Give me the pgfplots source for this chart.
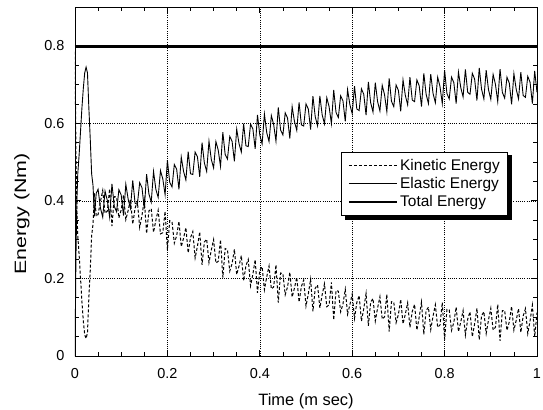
\documentclass[border=0pt]{standalone}
\usepackage{fontspec}
\setmainfont{Liberation Sans}
\newfontfamily\stretchfont[FakeStretch=1.3]{Liberation Sans}
\usepackage{pgfplots}
\usepackage{pgfplotstable}
\pgfplotsset{compat=1.18}
\pgfplotstableread{
t e k
0.000 0.000 0.785
0.002 0.250 0.530
0.004 0.400 0.380
0.006 0.470 0.310
0.009 0.520 0.260
0.012 0.580 0.200
0.015 0.640 0.140
0.018 0.690 0.090
0.021 0.730 0.055
0.024 0.745 0.045
0.027 0.730 0.060
0.030 0.640 0.150
0.033 0.560 0.220
0.036 0.470 0.310
0.039 0.440 0.340
0.042 0.360 0.420
0.046 0.420 0.360
0.050 0.430 0.365
0.055 0.382 0.398
0.060 0.358 0.427
0.065 0.425 0.368
0.070 0.401 0.374
0.075 0.358 0.431
0.080 0.444 0.335
0.085 0.386 0.411
0.090 0.372 0.410
0.095 0.429 0.356
0.100 0.415 0.377
0.105 0.362 0.415
0.110 0.443 0.352
0.115 0.405 0.375
0.120 0.381 0.404
0.125 0.453 0.340
0.130 0.394 0.381
0.135 0.391 0.398
0.140 0.447 0.332
0.145 0.434 0.363
0.150 0.380 0.402
0.155 0.469 0.316
0.160 0.418 0.374
0.165 0.397 0.380
0.170 0.476 0.319
0.175 0.430 0.350
0.180 0.409 0.376
0.185 0.478 0.315
0.190 0.457 0.318
0.195 0.416 0.373
0.200 0.505 0.274
0.205 0.448 0.349
0.210 0.436 0.346
0.215 0.494 0.291
0.220 0.482 0.310
0.225 0.430 0.347
0.230 0.513 0.282
0.235 0.476 0.304
0.240 0.454 0.331
0.245 0.527 0.266
0.250 0.470 0.305
0.255 0.468 0.321
0.260 0.526 0.253
0.265 0.514 0.283
0.270 0.462 0.320
0.275 0.550 0.235
0.280 0.498 0.294
0.285 0.476 0.301
0.290 0.554 0.241
0.295 0.507 0.273
0.300 0.485 0.300
0.305 0.553 0.240
0.310 0.531 0.244
0.315 0.489 0.300
0.320 0.577 0.202
0.325 0.520 0.277
0.330 0.508 0.274
0.335 0.566 0.219
0.340 0.554 0.238
0.345 0.502 0.275
0.350 0.585 0.210
0.355 0.548 0.232
0.360 0.526 0.259
0.365 0.599 0.194
0.370 0.542 0.233
0.375 0.540 0.249
0.380 0.598 0.181
0.385 0.586 0.211
0.390 0.534 0.248
0.395 0.622 0.163
0.400 0.570 0.222
0.405 0.547 0.230
0.410 0.624 0.171
0.415 0.576 0.204
0.420 0.553 0.232
0.425 0.620 0.173
0.430 0.597 0.178
0.435 0.554 0.235
0.440 0.641 0.138
0.445 0.583 0.214
0.450 0.570 0.212
0.455 0.627 0.158
0.460 0.614 0.178
0.465 0.561 0.216
0.470 0.643 0.152
0.475 0.605 0.175
0.480 0.582 0.203
0.485 0.654 0.139
0.490 0.596 0.179
0.495 0.593 0.196
0.500 0.650 0.129
0.505 0.637 0.160
0.510 0.584 0.198
0.515 0.670 0.115
0.520 0.617 0.175
0.525 0.594 0.183
0.530 0.671 0.124
0.535 0.622 0.158
0.540 0.599 0.186
0.545 0.666 0.127
0.550 0.643 0.132
0.555 0.599 0.190
0.560 0.686 0.093
0.565 0.628 0.169
0.570 0.615 0.167
0.575 0.671 0.114
0.580 0.658 0.134
0.585 0.605 0.172
0.590 0.687 0.108
0.595 0.648 0.132
0.600 0.625 0.160
0.605 0.696 0.097
0.610 0.637 0.138
0.615 0.633 0.156
0.620 0.689 0.090
0.625 0.675 0.122
0.630 0.621 0.161
0.635 0.707 0.078
0.640 0.653 0.139
0.645 0.629 0.148
0.650 0.705 0.090
0.655 0.656 0.124
0.660 0.632 0.153
0.665 0.698 0.095
0.670 0.674 0.101
0.675 0.630 0.159
0.680 0.716 0.063
0.685 0.657 0.140
0.690 0.643 0.139
0.695 0.699 0.086
0.700 0.685 0.107
0.705 0.631 0.146
0.710 0.712 0.083
0.715 0.672 0.108
0.720 0.648 0.137
0.725 0.719 0.074
0.730 0.660 0.115
0.735 0.656 0.133
0.740 0.712 0.067
0.745 0.697 0.100
0.750 0.643 0.139
0.755 0.729 0.056
0.760 0.675 0.117
0.765 0.651 0.126
0.770 0.727 0.068
0.775 0.677 0.103
0.780 0.653 0.132
0.785 0.719 0.074
0.790 0.695 0.080
0.795 0.651 0.138
0.800 0.737 0.042
0.805 0.677 0.120
0.810 0.663 0.119
0.815 0.719 0.066
0.820 0.705 0.087
0.825 0.651 0.126
0.830 0.732 0.063
0.835 0.692 0.088
0.840 0.668 0.117
0.845 0.739 0.054
0.850 0.680 0.095
0.855 0.675 0.114
0.860 0.729 0.050
0.865 0.714 0.083
0.870 0.659 0.123
0.875 0.743 0.042
0.880 0.688 0.104
0.885 0.663 0.114
0.890 0.737 0.058
0.895 0.687 0.093
0.900 0.662 0.123
0.905 0.726 0.067
0.910 0.701 0.074
0.915 0.656 0.133
0.920 0.740 0.039
0.925 0.680 0.117
0.930 0.665 0.117
0.935 0.719 0.066
0.940 0.704 0.088
0.945 0.649 0.128
0.950 0.728 0.067
0.955 0.688 0.092
0.960 0.663 0.122
0.965 0.732 0.061
0.970 0.672 0.103
0.975 0.667 0.122
0.980 0.721 0.058
0.985 0.706 0.091
0.990 0.651 0.131
0.995 0.735 0.050
1.000 0.680 0.112
}\energydata
\begin{document}
\begin{tikzpicture}
\begin{axis}[
  scale only axis, width=462bp, height=349bp,
  xmin=0, xmax=1, ymin=0, ymax=0.9,
  xtick={0,0.2,0.4,0.6,0.8,1},
  ytick={0,0.2,0.4,0.6,0.8},
  minor x tick num=3, minor y tick num=3,
  tick align=inside,
  major tick length=6bp, minor tick length=4bp,
  grid=major,
  grid style={black, line width=0.5pt, dash pattern=on 1pt off 1.2pt},
  axis line style={line width=1pt},
  every tick/.style={black, line width=0.8pt},
  tick label style={font=\fontsize{14.5}{16}\selectfont},
  xticklabel style={yshift=-9bp},
  yticklabel style={xshift=-7bp},
  /pgf/number format/assume math mode=true,
  xlabel={Time (m sec)},
  ylabel={\stretchfont Energy (Nm)},
  label style={font=\fontsize{16.5}{18}\selectfont},
  xlabel style={at={(axis description cs:0.5,-0.129)},anchor=center},
  ylabel style={at={(axis description cs:-0.115,0.407)},anchor=center},
  legend style={name=leg, at={(axis description cs:0.576,0.585)}, anchor=north west,
    font=\fontsize{15.5}{17}\selectfont, draw=black, line width=1.2pt,
    fill=white,
    inner xsep=6bp, inner ysep=5bp, row sep=1.5bp},
  legend cell align=left,
  legend image code/.code={\draw[#1] (0bp,0bp) -- (48bp,0bp);},
]
\addplot[black, line width=1pt, dash pattern=on 3pt off 2pt] table[x=t,y=k]{\energydata};
\addlegendentry{Kinetic Energy}
\addplot[black, line width=0.9pt] table[x=t,y=e]{\energydata};
\addlegendentry{Elastic Energy}
\addplot[black, line width=2.5pt] coordinates {(0,0.798) (1,0.798)};
\addlegendentry{Total Energy}
\end{axis}
\fill[black] ([yshift=-3.5bp]leg.north east) rectangle ([xshift=3.5bp,yshift=-3.5bp]leg.south east);
\fill[black] ([xshift=3.5bp]leg.south west) rectangle ([xshift=3.5bp,yshift=-3.5bp]leg.south east);
\pgfresetboundingbox
\path[use as bounding box] (-75bp,-54bp) rectangle (468bp,356bp);
\end{tikzpicture}
\end{document}
